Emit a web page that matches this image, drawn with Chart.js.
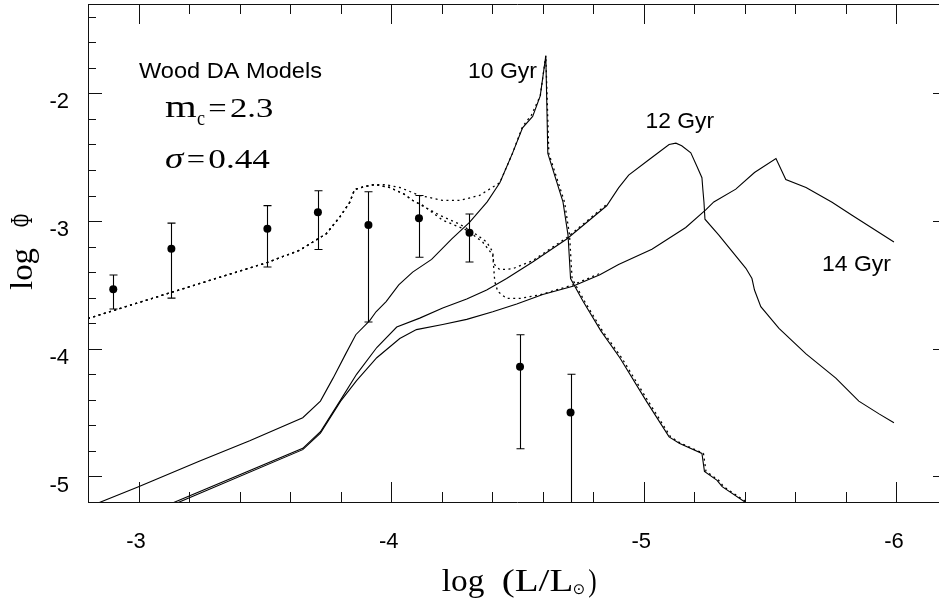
<!DOCTYPE html>
<html>
<head>
<meta charset="utf-8">
<title>Wood DA Models - log Phi vs log L</title>
<script src="https://cdn.jsdelivr.net/npm/chart.js@4.4.1/dist/chart.umd.min.js"></script>
<style>
  html, body { margin: 0; padding: 0; background: #fff; overflow: hidden; }
  canvas { display: block; }
</style>
</head>
<body>
<canvas id="lfChart" width="960" height="603"></canvas>
<script>
// Observed luminosity function bins (log L/Lsun, log Phi, error bar ends)
const lumObs   = [-2.90, -3.13, -3.51, -3.71, -3.91, -4.11, -4.31, -4.51, -4.71];
const phiObs   = [-3.534, -3.216, -3.060, -2.931, -3.030, -2.978, -3.091, -4.141, -4.500];
const phiErrHi = [-3.422, -3.016, -2.879, -2.763, -2.770, -2.800, -2.944, -3.890, -4.200];
const phiErrLo = [-3.689, -3.603, -3.360, -3.223, -3.790, -3.283, -3.321, -4.783, -5.600];

// 10 Gyr model (solid)
const lum10 = [-2.80, -3.00, -3.24, -3.44, -3.65, -3.72, -3.77, -3.82, -3.86, -3.915, -3.94, -3.98, -4.03, -4.085,
  -4.16, -4.24, -4.31, -4.38, -4.43, -4.48, -4.52, -4.56, -4.59, -4.604, -4.612, -4.616, -4.62, -4.68, -4.70,
  -4.71, -4.76, -4.83, -4.905, -5.01, -5.10, -5.14, -5.23, -5.24, -5.29, -5.31, -5.40, -5.42];
const phi10 = [-5.24, -5.08, -4.88, -4.72, -4.54, -4.41, -4.23, -4.04, -3.89, -3.78, -3.71, -3.63, -3.50, -3.40,
  -3.30, -3.14, -3.01, -2.85, -2.70, -2.47, -2.27, -2.18, -2.02, -1.82, -1.705, -2.08, -2.47, -2.85, -3.11,
  -3.45, -3.63, -3.86, -4.07, -4.41, -4.69, -4.74, -4.82, -4.96, -5.03, -5.08, -5.20, -5.22];

// 12 Gyr model (solid)
const lum12 = [-3.12, -3.65, -3.72, -3.80, -3.863, -3.943, -4.022, -4.113, -4.204, -4.299, -4.378, -4.457, -4.56,
  -4.695, -4.853, -4.90, -4.94, -5.02, -5.10, -5.127, -5.15, -5.186, -5.21, -5.23, -5.234, -5.238, -5.242,
  -5.297, -5.404, -5.428, -5.438, -5.463, -5.535, -5.642, -5.76, -5.851, -5.931, -5.99];
const phi12 = [-5.22, -4.78, -4.65, -4.40, -4.20, -3.99, -3.83, -3.76, -3.68, -3.61, -3.54, -3.45, -3.32,
  -3.14, -2.88, -2.74, -2.64, -2.52, -2.40, -2.39, -2.41, -2.465, -2.57, -2.66, -2.76, -2.85, -2.985,
  -3.11, -3.37, -3.45, -3.54, -3.67, -3.84, -4.04, -4.23, -4.41, -4.51, -4.58];

// 14 Gyr model (solid)
const lum14 = [-3.12, -3.65, -3.72, -3.80, -3.863, -3.943, -4.034, -4.10, -4.204, -4.299, -4.402, -4.497, -4.60,
  -4.719, -4.826, -4.90, -5.032, -5.166, -5.246, -5.277, -5.364, -5.438, -5.523, -5.562, -5.642, -5.745, -5.824, -5.99];
const phi14 = [-5.235, -4.79, -4.66, -4.41, -4.25, -4.07, -3.92, -3.85, -3.81, -3.77, -3.71, -3.65, -3.575,
  -3.51, -3.42, -3.34, -3.22, -3.05, -2.91, -2.85, -2.75, -2.62, -2.51, -2.675, -2.737, -2.853, -2.954, -3.164];

// dotted variants: shared bright end, then one branch per age
const lumDotBase = [-2.80, -3.132, -3.51, -3.638, -3.69, -3.743, -3.796, -3.836, -3.855, -3.895, -3.935];
const phiDotBase = [-3.763, -3.557, -3.324, -3.228, -3.164, -3.099, -2.970, -2.853, -2.753, -2.729, -2.714];

const lumDot10 = [-3.974, -4.034, -4.113, -4.204, -4.271, -4.350, -4.418, -4.43, -4.48, -4.52, -4.555, -4.59, -4.604,
  -4.612, -4.618, -4.624, -4.686, -4.706, -4.716, -4.766, -4.836, -4.912, -5.017, -5.106, -5.146, -5.236, -5.246,
  -5.296, -5.316, -5.406, -5.43];
const phiDot10 = [-2.714, -2.737, -2.799, -2.838, -2.838, -2.799, -2.714, -2.70, -2.47, -2.26, -2.17, -2.02, -1.82,
  -1.705, -2.08, -2.47, -2.85, -3.11, -3.45, -3.63, -3.86, -4.07, -4.41, -4.69, -4.74, -4.82, -4.96,
  -5.03, -5.08, -5.20, -5.23];

const lumDot12 = [-3.994, -4.053, -4.085, -4.113, -4.192, -4.271, -4.323, -4.378, -4.402, -4.406, -4.430, -4.481, -4.56, -4.695, -4.853];
const phiDot12 = [-2.737, -2.791, -2.838, -2.869, -2.954, -3.024, -3.086, -3.164, -3.241, -3.334, -3.381, -3.373, -3.31, -3.13, -2.87];

const lumDot14 = [-3.994, -4.053, -4.085, -4.125, -4.204, -4.299, -4.362, -4.402, -4.410, -4.422, -4.457, -4.509, -4.588, -4.719, -4.826];
const phiDot14 = [-2.737, -2.791, -2.838, -2.877, -2.993, -3.071, -3.164, -3.265, -3.474, -3.552, -3.606, -3.606, -3.578, -3.50, -3.41];

// axis ticks
const xTicks = [-3, -4, -5, -6];
const xTickLabels = ['-3', '-4', '-5', '-6'];
const yTicks = [-2, -3, -4, -5];
const yTickLabels = ['-2', '-3', '-4', '-5'];

const SANS = '"Liberation Sans", Arial, Helvetica, sans-serif';
const SERIF = '"Liberation Serif", "Times New Roman", serif';

function pts(xs, ys) {
  return xs.map((v, i) => ({ x: v, y: ys[i] }));
}

function curve(xs, ys, dotted) {
  return {
    data: pts(xs, ys),
    showLine: true,
    borderColor: '#000',
    borderWidth: dotted ? 1.3 : 1.1,
    borderDash: dotted ? [2, 3.5] : [],
    pointRadius: 0,
    fill: false,
    tension: 0
  };
}

// text squeezed/stretched to a measured span
function fitText(ctx, str, x0, x1, base, font) {
  ctx.font = font;
  const w = ctx.measureText(str).width;
  ctx.save();
  ctx.translate(x0, base);
  ctx.scale((x1 - x0) / w, 1);
  ctx.fillText(str, 0, 0);
  ctx.restore();
}

// frame with inward ticks on all four sides
const framePlugin = {
  id: 'frame',
  afterDraw(chart) {
    const { ctx, chartArea: a, scales: { x, y } } = chart;
    ctx.save();
    ctx.strokeStyle = '#111';
    ctx.lineWidth = 1;
    ctx.beginPath();
    ctx.rect(a.left + 0.5, a.top + 0.5, a.right - a.left - 1, a.bottom - a.top);
    for (let i = -31; i <= -14; i++) {
      const px = Math.round(x.getPixelForValue(i / 5)) + 0.5;
      const len = i % 5 === 0 ? 20 : 10;
      ctx.moveTo(px, a.bottom); ctx.lineTo(px, a.bottom - len);
      ctx.moveTo(px, a.top); ctx.lineTo(px, a.top + len);
    }
    for (let i = -26; i <= -7; i++) {
      const py = Math.round(y.getPixelForValue(i / 5)) + 0.5;
      const len = i % 5 === 0 ? 14 : 8;
      ctx.moveTo(a.left, py); ctx.lineTo(a.left + len, py);
      ctx.moveTo(a.right, py); ctx.lineTo(a.right - len, py);
    }
    ctx.stroke();
    ctx.restore();
  }
};

// vertical error bars with caps
const errorBarPlugin = {
  id: 'errorBars',
  afterDatasetsDraw(chart) {
    const { ctx, chartArea: a, scales: { x, y } } = chart;
    ctx.save();
    ctx.beginPath();
    ctx.rect(a.left, a.top, a.right - a.left, a.bottom - a.top);
    ctx.clip();
    ctx.strokeStyle = '#000';
    ctx.lineWidth = 1.1;
    ctx.beginPath();
    lumObs.forEach((l, i) => {
      const px = Math.round(x.getPixelForValue(l)) + 0.5;
      const hi = y.getPixelForValue(phiErrHi[i]);
      const lo = y.getPixelForValue(phiErrLo[i]);
      ctx.moveTo(px, hi); ctx.lineTo(px, lo);
      ctx.moveTo(px - 4, hi); ctx.lineTo(px + 4, hi);
      ctx.moveTo(px - 4, lo); ctx.lineTo(px + 4, lo);
    });
    ctx.stroke();
    ctx.restore();
  }
};

// labels in the plot and axis titles
const textPlugin = {
  id: 'labels',
  afterDraw(chart) {
    const ctx = chart.ctx;
    ctx.save();
    ctx.fillStyle = '#000';
    ctx.textAlign = 'left';
    ctx.textBaseline = 'alphabetic';

    const sans = '22px ' + SANS;
    fitText(ctx, 'Wood DA Models', 139, 322, 77.7, sans);
    fitText(ctx, '10 Gyr', 468, 537, 77.7, sans);
    fitText(ctx, '12 Gyr', 645.5, 714, 128.3, sans);
    fitText(ctx, '14 Gyr', 822, 891, 270.7, sans);

    // m_c = 2.3
    fitText(ctx, 'm', 165, 196.7, 116.7, '31px ' + SERIF);
    fitText(ctx, 'c', 197, 205, 125, '21px ' + SERIF);
    fitText(ctx, '=', 208.3, 226.7, 116.7, '28px ' + SERIF);
    fitText(ctx, '2.3', 230, 273.3, 116.7, '27px ' + SERIF);
    // sigma = 0.44
    fitText(ctx, 'σ', 165, 183.3, 168, 'italic 30px ' + SERIF);
    fitText(ctx, '=', 186.7, 205, 168, '28px ' + SERIF);
    fitText(ctx, '0.44', 208.3, 270, 168, '27px ' + SERIF);

    // x title: log (L/L_sun)
    fitText(ctx, 'log', 441.7, 484.3, 591, '31px ' + SERIF);
    fitText(ctx, '(L/L', 501.7, 573.3, 591, '31px ' + SERIF);
    fitText(ctx, ')', 588.3, 596.7, 591, '31px ' + SERIF);
    ctx.save();
    ctx.font = '15px "DejaVu Sans", sans-serif';
    ctx.textAlign = 'center';
    ctx.textBaseline = 'middle';
    ctx.fillText('⊙', 579, 590);
    ctx.restore();

    // y title: log Phi (rotated)
    ctx.save();
    ctx.translate(31.7, 290);
    ctx.rotate(-Math.PI / 2);
    ctx.font = '28px ' + SERIF;
    let w = ctx.measureText('log').width;
    ctx.save();
    ctx.scale(42 / w, 1.13);
    ctx.fillText('log', 0, 0);
    ctx.restore();
    w = ctx.measureText('Φ').width;
    ctx.save();
    ctx.translate(63, 0);
    ctx.scale(13 / w, 1.13);
    ctx.fillText('Φ', 0, 0);
    ctx.restore();
    ctx.restore();

    ctx.restore();
  }
};

new Chart(document.getElementById('lfChart'), {
  type: 'scatter',
  data: {
    datasets: [
      {
        data: pts(lumObs, phiObs),
        pointRadius: 4,
        pointHoverRadius: 4,
        pointStyle: 'circle',
        backgroundColor: '#000',
        borderWidth: 0,
        showLine: false
      },
      curve(lum10, phi10, false),
      curve(lum12, phi12, false),
      curve(lum14, phi14, false),
      curve(lumDotBase.concat(lumDot10), phiDotBase.concat(phiDot10), true),
      curve(lumDotBase.concat(lumDot12), phiDotBase.concat(phiDot12), true),
      curve(lumDotBase.concat(lumDot14), phiDotBase.concat(phiDot14), true)
    ]
  },
  options: {
    responsive: false,
    animation: false,
    events: [],
    layout: { padding: { left: 0, right: 13, top: 0, bottom: 0 } },
    plugins: {
      legend: { display: false },
      tooltip: { enabled: false }
    },
    scales: {
      x: {
        type: 'linear',
        reverse: true,
        min: -6.2,
        max: -2.8,
        grid: { display: false, drawTicks: false },
        border: { display: false },
        ticks: {
          color: '#000',
          font: { family: SANS, size: 22 },
          padding: 27,
          labelOffset: -2.5,
          maxRotation: 0,
          callback: (v) => xTickLabels[xTicks.indexOf(v)]
        },
        afterBuildTicks: (s) => { s.ticks = xTicks.map(v => ({ value: v })); },
        afterFit: (s) => { s.height = 101; s.paddingLeft = 0; s.paddingRight = 0; }
      },
      y: {
        type: 'linear',
        min: -5.2,
        max: -1.3,
        grid: { display: false, drawTicks: false },
        border: { display: false },
        ticks: {
          color: '#000',
          font: { family: SANS, size: 22 },
          padding: 19,
          labelOffset: 9,
          callback: (v) => yTickLabels[yTicks.indexOf(v)]
        },
        afterBuildTicks: (s) => { s.ticks = yTicks.map(v => ({ value: v })); },
        afterFit: (s) => { s.width = 88; s.paddingTop = 0; s.paddingBottom = 0; }
      }
    }
  },
  plugins: [errorBarPlugin, framePlugin, textPlugin]
});
</script>
</body>
</html>
